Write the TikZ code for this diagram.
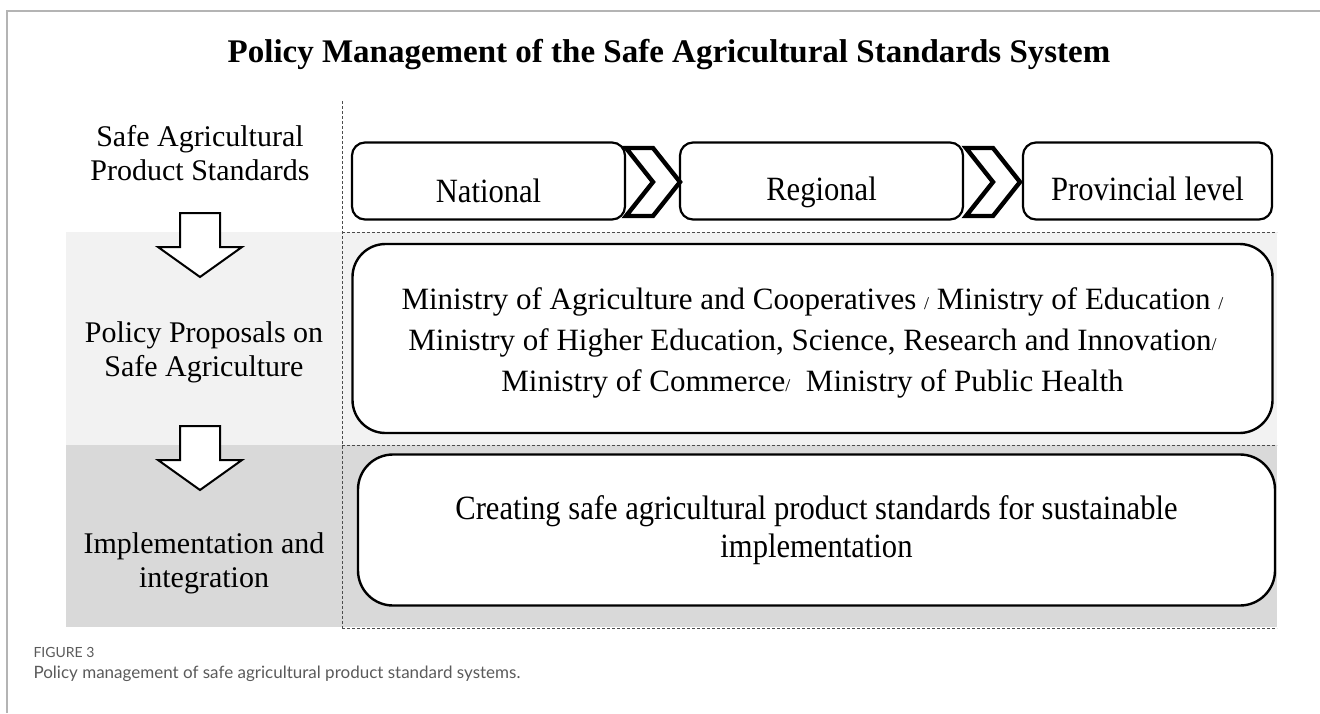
\documentclass[tikz,border=0pt]{standalone}
\usepackage{fontspec}
\setmainfont{Liberation Serif}
\newfontfamily\condfont{Liberation Serif}[FakeStretch=0.9]
\newfontfamily\capfont{Lato}
\usepackage{tikz}
\usetikzlibrary{positioning}
\definecolor{bandlight}{HTML}{F2F2F2}
\definecolor{banddark}{HTML}{D9D9D9}
\definecolor{framegray}{HTML}{B4B4B4}
\definecolor{capgray}{HTML}{5A5A5A}
\tikzset{
    levelbox/.style = {rectangle, rounded corners=13pt, draw=black, line width=2.2pt, fill=white,
                       minimum height=77pt, font=\condfont\fontsize{34}{38}\selectfont},
    leveltext/.style = {font=\condfont\fontsize{34}{38}\selectfont, anchor=base},
    bigbox/.style = {rectangle, draw=black, line width=2.4pt, fill=white, align=center},
    sidelabel/.style = {align=center, font=\fontsize{30}{34}\selectfont},
    chev/.style = {draw=black, line width=4.4pt, fill=white, line join=miter},
    downarrow/.style = {draw=black, line width=2pt, fill=white, line join=miter},
    divider/.style = {draw=black!70, line width=1pt, dash pattern=on 3pt off 2pt},
    framerule/.style = {draw=framegray, line width=1.6pt}
}
\newcommand{\smallsep}{{\fontsize{18}{18}\selectfont/}}

\begin{document}
\begin{tikzpicture}[x=1pt, y=-1pt]
  \useasboundingbox (0,0) rectangle (1320,713);
  \draw[framerule] (7,713) -- (7,11) -- (1320,11);

  % shaded rows
  \fill[bandlight] (66,232) rectangle (1277,445);
  \fill[banddark] (66,445) rectangle (1277,627);
  \draw[divider] (342,101) -- (342,628);
  \draw[divider] (342,232) -- (1277,232);
  \draw[divider] (342,445) -- (1277,445);
  \draw[divider] (342,628) -- (1277,628);

  \node (title) at (669,55) {\fontsize{33}{36}\selectfont\bfseries Policy Management of the Safe Agricultural Standards System};

  % standard levels, text sits low in each box
  \node[levelbox, minimum width=273pt] (national) at (488.5,181) {};
  \node[levelbox, minimum width=283pt] (regional) at (821.5,181) {};
  \node[levelbox, minimum width=249pt] (provincial) at (1147.5,181) {};
  \node[leveltext] at ([yshift=-21pt]national.center) {National};
  \node[leveltext] at ([yshift=-19pt]regional.center) {Regional};
  \node[leveltext] at ([yshift=-19pt]provincial.center) {Provincial level};
  \foreach \cx in {626,966}
    \draw[chev] (\cx,148) -- ++(27,0) -- ++(27,34) -- ++(-27,34) -- ++(-27,0) -- ++(27,-34) -- cycle;

  \node[bigbox, rounded corners=33pt, minimum width=920pt, minimum height=189pt] (ministries) at (812.5,338.5) {};
  \node[align=center, font=\fontsize{31}{41}\selectfont] at ([yshift=-4pt]ministries.center)
    {Ministry of Agriculture and Cooperatives \smallsep\ Ministry of Education \smallsep\\
     Ministry of Higher Education, Science, Research and Innovation\smallsep\\
     Ministry of Commerce\smallsep\ \ Ministry of Public Health};
  \node[bigbox, rounded corners=35pt, minimum width=917pt, minimum height=151pt,
        font=\condfont\fontsize{34}{38}\selectfont] (creating) at (816.5,530)
    {Creating safe agricultural product standards for sustainable\\ implementation};

  % left column
  \node[sidelabel] (lblstd) at (200,153) {Safe Agricultural\\Product Standards};
  \node[sidelabel] (lblprop) at (204,352) {Policy Proposals on\\Safe Agriculture};
  \node[sidelabel] (lblimpl) at (204,563) {Implementation and\\integration};
  \foreach \ay in {213,426}
    \draw[downarrow] (180,\ay) -- (220,\ay) -- (220,\ay+34) -- (242,\ay+34) -- (200,\ay+64)
      -- (158,\ay+34) -- (180,\ay+34) -- cycle;

  % caption
  \node[anchor=west, text=capgray, font=\capfont\fontsize{14}{16}\selectfont] (figno) at (30,652) {FIGURE 3};
  \node[anchor=west, text=capgray, font=\capfont\fontsize{17}{20}\selectfont] (caption) at (30,674)
    {Policy management of safe agricultural product standard systems.};
\end{tikzpicture}
\end{document}
